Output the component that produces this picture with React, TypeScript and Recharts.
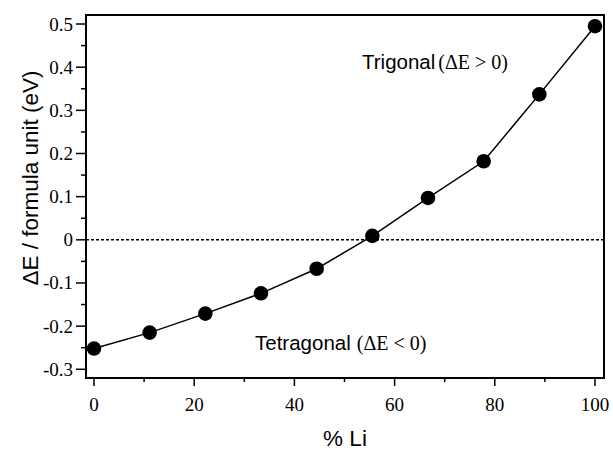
import React from 'react';
import {
  ComposedChart,
  Line,
  XAxis,
  YAxis,
  ReferenceLine,
  ReferenceArea,
  Customized,
} from 'recharts';

const liPercent = [0, 11.11, 22.22, 33.33, 44.44, 55.56, 66.67, 77.78, 88.89, 100];
const deltaE = [-0.252, -0.215, -0.171, -0.124, -0.067, 0.009, 0.097, 0.182, 0.337, 0.495];

const xTicks = [0, 10, 20, 30, 40, 50, 60, 70, 80, 90, 100];
const yTicks = [-0.3, -0.25, -0.2, -0.15, -0.1, -0.05, 0, 0.05, 0.1, 0.15, 0.2, 0.25, 0.3, 0.35, 0.4, 0.45, 0.5];

const xDomain: [number, number] = [-1.6, 101.8];
const yDomain: [number, number] = [-0.3202, 0.5209];

const data = liPercent.map((x, i) => ({ x, y: deltaE[i] }));

const SANS = '"Liberation Sans", Arial, Helvetica, sans-serif';
const SERIF = '"Liberation Serif", "Times New Roman", Times, serif';

const isMajorY = (v: number) => Math.abs(v * 10 - Math.round(v * 10)) < 1e-6;
const isMajorX = (v: number) => v % 20 === 0;

const serifStyle = { fontFamily: SERIF, fontSize: 19 };
const sansStyle = { fontFamily: SANS };

const YTick = (props: any) => {
  const { x, y, payload } = props;
  const v = payload.value as number;
  const major = isMajorY(v);
  const label = Math.abs(v) < 1e-9 ? '0' : String(Math.round(v * 10) / 10);
  return (
    <g>
      <line x1={x} x2={x - (major ? 10 : 5)} y1={y} y2={y} stroke="#000" strokeWidth={1.5} />
      {major && (
        <text x={x - 13} y={y} dy={6.5} textAnchor="end" style={serifStyle} fill="#000">
          {label}
        </text>
      )}
    </g>
  );
};

const XTick = (props: any) => {
  const { x, y, payload } = props;
  const v = payload.value as number;
  const major = isMajorX(v);
  return (
    <g>
      <line x1={x} x2={x} y1={y} y2={y + (major ? 8 : 4)} stroke="#000" strokeWidth={1.5} />
      {major && (
        <text x={x} y={y + 33} textAnchor="middle" style={serifStyle} fill="#000">
          {String(v)}
        </text>
      )}
    </g>
  );
};

const Annotations = () => (
  <g>
    <text x={362} y={69} fill="#000">
      <tspan style={{ ...sansStyle, fontSize: 20.5 }}>Trigonal</tspan>
      <tspan style={{ fontFamily: SERIF, fontSize: 20 }} dx={3}>(ΔE &gt; 0)</tspan>
    </text>
    <text x={255} y={350} fill="#000">
      <tspan style={{ ...sansStyle, fontSize: 20.5 }}>Tetragonal</tspan>
      <tspan style={{ fontFamily: SERIF, fontSize: 20 }} dx={6}>(ΔE &lt; 0)</tspan>
    </text>
    <text
      transform="translate(38,178) rotate(-90)"
      textAnchor="middle"
      style={{ ...sansStyle, fontSize: 22.5 }}
      fill="#000"
    >
      ΔE / formula unit (eV)
    </text>
    <text x={345} y={446} textAnchor="middle" style={{ ...sansStyle, fontSize: 22.5 }} fill="#000">
      % Li
    </text>
  </g>
);

export default function App() {
  return (
    <div style={{ position: 'absolute', left: 0, top: 0, background: '#fff' }}>
      <ComposedChart
        width={613}
        height={450}
        data={data}
        margin={{ top: 15, right: 9, bottom: 0, left: 0 }}
      >
        <XAxis
          dataKey="x"
          type="number"
          domain={xDomain}
          ticks={xTicks}
          interval={0}
          allowDataOverflow
          axisLine={false}
          tickLine={false}
          tickSize={0}
          tickMargin={0}
          height={72}
          tick={<XTick />}
        />
        <YAxis
          dataKey="y"
          type="number"
          domain={yDomain}
          ticks={yTicks}
          interval={0}
          allowDataOverflow
          axisLine={false}
          tickLine={false}
          tickSize={0}
          tickMargin={0}
          width={86}
          tick={<YTick />}
        />
        <ReferenceLine y={0} stroke="#000" strokeWidth={1.5} strokeDasharray="3 2" />
        <ReferenceArea
          x1={xDomain[0]}
          x2={xDomain[1]}
          y1={yDomain[0]}
          y2={yDomain[1]}
          fill="none"
          fillOpacity={0}
          stroke="#000"
          strokeWidth={2}
        />
        <Line
          dataKey="y"
          type="linear"
          stroke="#000"
          strokeWidth={1.5}
          dot={{ r: 7.3, fill: '#000', stroke: '#000', strokeWidth: 0 }}
          activeDot={false}
          isAnimationActive={false}
        />
        <Customized component={Annotations} />
      </ComposedChart>
    </div>
  );
}
